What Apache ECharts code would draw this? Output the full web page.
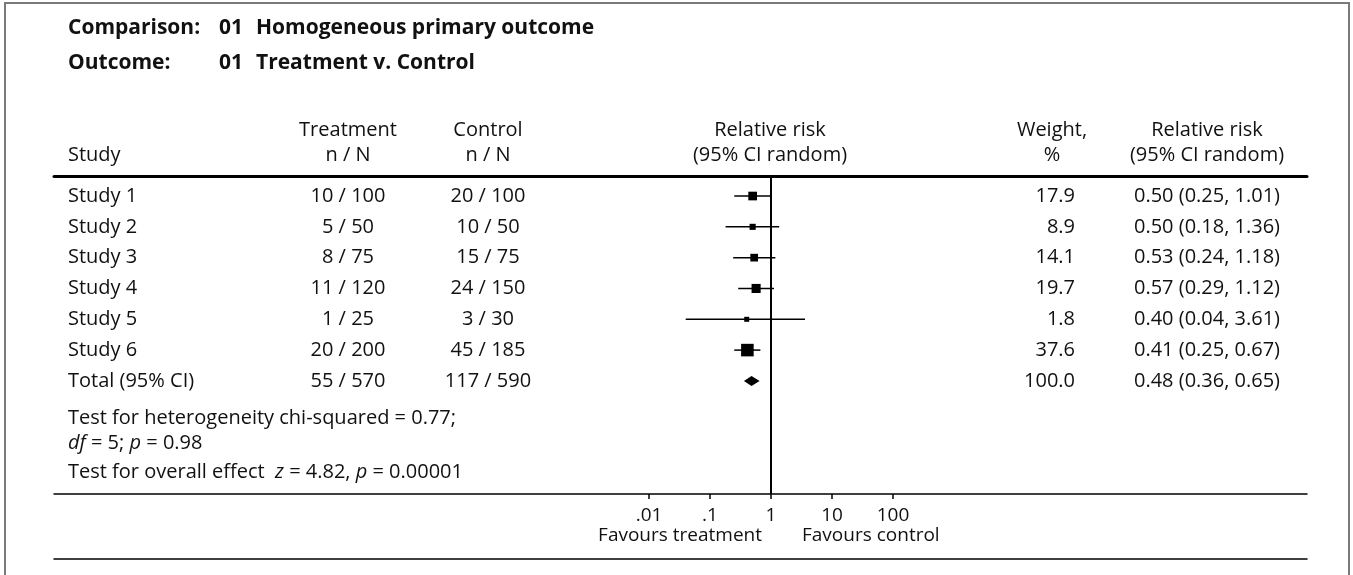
<!DOCTYPE html>
<html><head><meta charset="utf-8">
<script src="https://cdn.jsdelivr.net/npm/echarts@6/dist/echarts.min.js"></script>
<style>html,body{margin:0;padding:0;background:#fff}#c{width:1353px;height:575px}</style>
</head><body><div id="c"></div><script>
// ---- data ----
const studies   = ['Study 1','Study 2','Study 3','Study 4','Study 5','Study 6','Total (95% CI)'];
const treatment = ['10 / 100','5 / 50','8 / 75','11 / 120','1 / 25','20 / 200','55 / 570'];
const control   = ['20 / 100','10 / 50','15 / 75','24 / 150','3 / 30','45 / 185','117 / 590'];
const rr        = [0.50, 0.50, 0.53, 0.57, 0.40, 0.41, 0.48];
const ciLow     = [0.25, 0.18, 0.24, 0.29, 0.04, 0.25, 0.36];
const ciHigh    = [1.01, 1.36, 1.18, 1.12, 3.61, 0.67, 0.65];
const weight    = [17.9, 8.9, 14.1, 19.7, 1.8, 37.6, 100.0];
const tickValues = [0.01, 0.1, 1, 10, 100];
const tickLabels = ['.01', '.1', '1', '10', '100'];

// ---- layout / style ----
const FONT = '"Open Sans", sans-serif';
const FS = 20;
const FS_AXIS = 19;
const FS_TITLE = 21;
const TXT = '#111';
const font = (w, size) => (w || 'normal') + ' ' + (size || FS) + 'px ' + FONT;
const col = { study: 68, treat: 348, ctrl: 488, weight: 1075, rrText: 1207 };
const Y_MIN = -0.65, Y_MAX = 9.67;

const fmt2 = v => v.toFixed(2);
const cells = [];
studies.forEach((s, i) => {
  cells.push([col.study, i, s, 'left']);
  cells.push([col.treat, i, treatment[i], 'center']);
  cells.push([col.ctrl, i, control[i], 'center']);
  cells.push([col.weight, i, weight[i].toFixed(1), 'right']);
  cells.push([col.rrText, i, fmt2(rr[i]) + ' (' + fmt2(ciLow[i]) + ', ' + fmt2(ciHigh[i]) + ')', 'center']);
});

const forestData = rr.map((v, i) => [v, ciLow[i], ciHigh[i], i, weight[i]]);

function txt(x, y, text, align, weightStr, size) {
  return {
    type: 'text', x: x, y: y, silent: true,
    style: { text: text, font: font(weightStr, size), fill: TXT, align: align || 'left', verticalAlign: 'middle',
             textAlign: align || 'left', textVerticalAlign: 'middle' }
  };
}
const italic = { fontStyle: 'italic', fontSize: FS, fontFamily: FONT, fill: TXT };

const chart = echarts.init(document.getElementById('c'));
chart.setOption({
  animation: false,
  grid: [
    { left: 649, right: 1353 - 893, top: 176, bottom: 575 - 494 },
    { left: 54, right: 1353 - 1307, top: 176, bottom: 575 - 494 },
    { left: 54, right: 1353 - 1307, top: 494, bottom: 575 - 559 }
  ],
  xAxis: [
    { type: 'log', logBase: 10, gridIndex: 0, min: 0.01, max: 100, position: 'bottom',
      axisLine: { show: false, onZero: false },
      axisTick: { show: true, length: 5, lineStyle: { color: '#000', width: 1.5 } },
      minorTick: { show: false }, splitLine: { show: false },
      axisLabel: { margin: 12, fontSize: FS_AXIS, fontFamily: FONT, color: TXT,
        formatter: v => { const k = tickValues.findIndex(t => Math.abs(Math.log10(t) - Math.log10(v)) < 1e-6); return k >= 0 ? tickLabels[k] : ''; } } },
    { type: 'value', gridIndex: 1, min: 54, max: 1307, position: 'bottom',
      axisLine: { show: true, onZero: false, lineStyle: { color: '#000', width: 1.5 } },
      axisTick: { show: false }, axisLabel: { show: false }, splitLine: { show: false } },
    { type: 'value', gridIndex: 1, min: 54, max: 1307, position: 'top',
      axisLine: { show: true, onZero: false, lineStyle: { color: '#000', width: 3 } },
      axisTick: { show: false }, axisLabel: { show: false }, splitLine: { show: false } },
    { type: 'value', gridIndex: 2, min: 0, max: 1, position: 'bottom',
      axisLine: { show: true, onZero: false, lineStyle: { color: '#000', width: 1.5 } },
      axisTick: { show: false }, axisLabel: { show: false }, splitLine: { show: false } }
  ],
  yAxis: [
    { type: 'value', gridIndex: 0, inverse: true, min: Y_MIN, max: Y_MAX, show: false },
    { type: 'value', gridIndex: 1, inverse: true, min: Y_MIN, max: Y_MAX, show: false },
    { type: 'value', gridIndex: 2, min: 0, max: 1, show: false }
  ],
  series: [
    { type: 'line', xAxisIndex: 0, yAxisIndex: 0, symbol: 'none', silent: true,
      data: [[1, Y_MIN], [1, Y_MAX]], lineStyle: { color: '#000', width: 2 } },
    { type: 'custom', xAxisIndex: 0, yAxisIndex: 0, clip: false, silent: true,
      data: forestData, encode: { x: [0, 1, 2], y: 3 },
      renderItem: (params, api) => {
        const row = api.value(3);
        const pm = api.coord([api.value(0), row]);
        const pl = api.coord([api.value(1), row]);
        const ph = api.coord([api.value(2), row]);
        const y = pm[1];
        if (params.dataIndex === studies.length - 1) {
          const h = 5;
          return { type: 'polygon', shape: { points: [[pl[0], y], [pm[0], y - h], [ph[0], y], [pm[0], y + h]] },
                   style: { fill: '#000' } };
        }
        const s = Math.max(5, 2.05 * Math.sqrt(api.value(4)));
        return { type: 'group', children: [
          { type: 'line', shape: { x1: pl[0], y1: y, x2: ph[0], y2: y }, style: { stroke: '#000', lineWidth: 1.5 } },
          { type: 'rect', shape: { x: pm[0] - s / 2, y: y - s / 2, width: s, height: s }, style: { fill: '#000' } }
        ] };
      } },
    { type: 'custom', xAxisIndex: 1, yAxisIndex: 1, clip: false, silent: true,
      data: cells.map(c => [c[0], c[1]]),
      renderItem: (params, api) => {
        const c = cells[params.dataIndex];
        const p = api.coord([api.value(0), api.value(1)]);
        return { type: 'text', x: p[0], y: p[1],
          style: { text: c[2], font: font(), fill: TXT, align: c[3], verticalAlign: 'middle' } };
      } }
  ],
  graphic: [
    { type: 'rect', silent: true, z: -10, shape: { x: 5, y: 3, width: 1344, height: 640 },
      style: { fill: 'none', stroke: '#7a7a7a', lineWidth: 2 } },
    txt(68, 28, 'Comparison:', 'left', 'bold', FS_TITLE),
    txt(219, 28, '01', 'left', 'bold', FS_TITLE),
    txt(256, 28, 'Homogeneous primary outcome', 'left', 'bold', FS_TITLE),
    txt(68, 63, 'Outcome:', 'left', 'bold', FS_TITLE),
    txt(219, 63, '01', 'left', 'bold', FS_TITLE),
    txt(256, 63, 'Treatment v. Control', 'left', 'bold', FS_TITLE),
    txt(68, 155, 'Study', 'left'),
    txt(348, 130, 'Treatment', 'center'),
    txt(348, 155, 'n / N', 'center'),
    txt(488, 130, 'Control', 'center'),
    txt(488, 155, 'n / N', 'center'),
    txt(770, 130, 'Relative risk', 'center'),
    txt(770, 155, '(95% CI random)', 'center'),
    txt(1052, 130, 'Weight,', 'center'),
    txt(1052, 155, '%', 'center'),
    txt(1207, 130, 'Relative risk', 'center'),
    txt(1207, 155, '(95% CI random)', 'center'),
    txt(68, 418, 'Test for heterogeneity chi-squared = 0.77;', 'left'),
    { type: 'text', x: 68, y: 443, silent: true,
      style: { text: '{i|df} = 5; {i|p} = 0.98', font: font(), fill: TXT, align: 'left', verticalAlign: 'middle', rich: { i: italic } } },
    { type: 'text', x: 68, y: 472, silent: true,
      style: { text: 'Test for overall effect  {i|z} = 4.82, {i|p} = 0.00001', font: font(), fill: TXT, align: 'left', verticalAlign: 'middle', rich: { i: italic } } },
    txt(762, 536, 'Favours treatment', 'right', 'normal', FS_AXIS),
    txt(802, 536, 'Favours control', 'left', 'normal', FS_AXIS)
  ]
});
</script></body></html>
